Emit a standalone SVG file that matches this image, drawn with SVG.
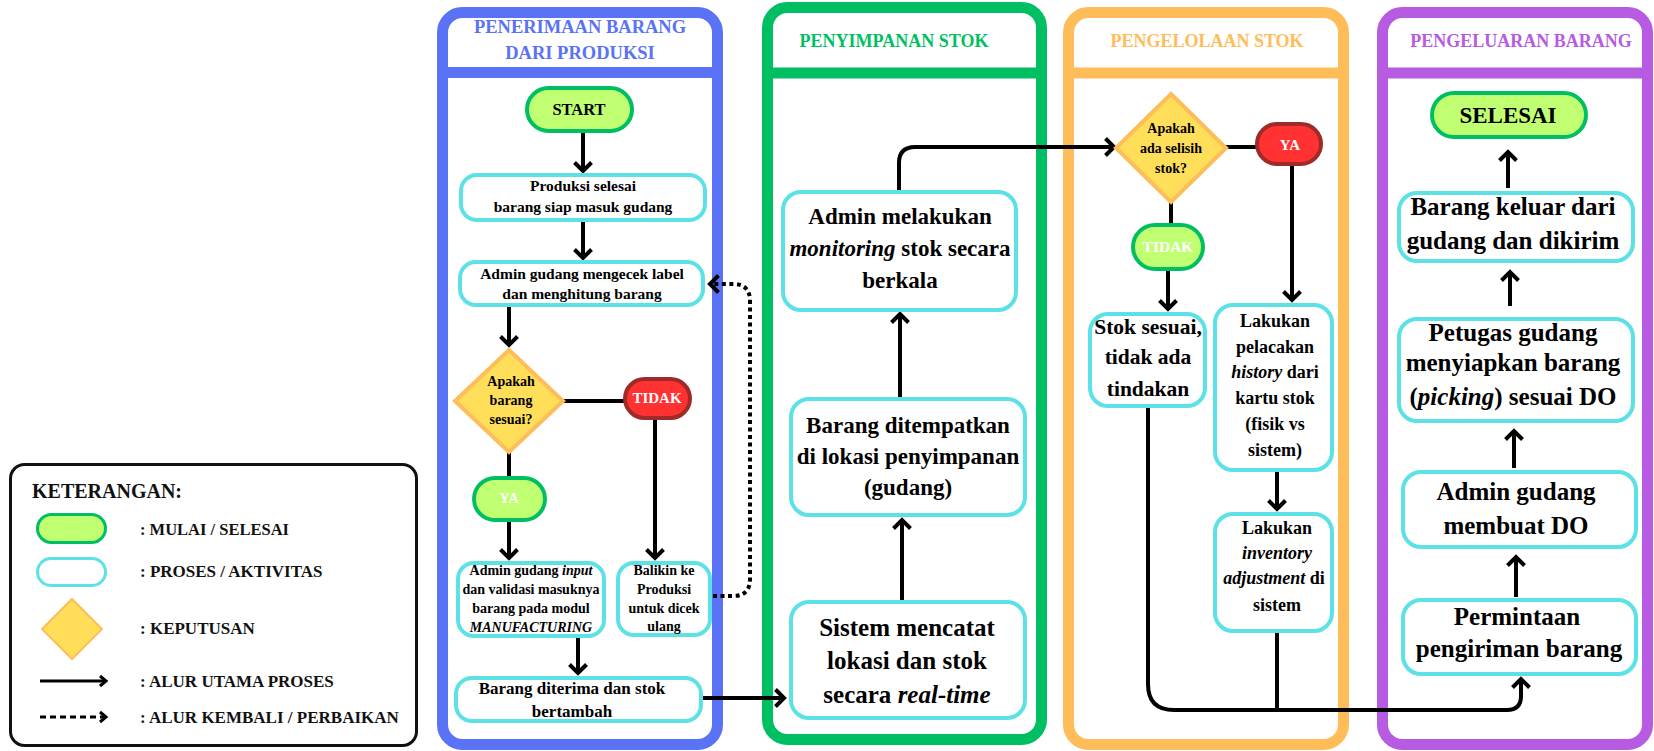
<svg xmlns="http://www.w3.org/2000/svg" width="1654" height="751" viewBox="0 0 1654 751">
<style>
.t{font-family:"Liberation Serif","Times New Roman",serif;font-weight:bold;text-anchor:middle;fill:#000}
.l{font-family:"Liberation Serif","Times New Roman",serif;font-weight:bold;fill:#111}
.w{fill:#fff}
.i{font-style:italic}
.lane{fill:#fff;stroke-width:11}
.sep{stroke-width:11}
.proc{fill:#fff;stroke:#5CE1E6;stroke-width:4}
.term{fill:#C1FF72;stroke:#00BF63;stroke-width:4}
.red{fill:#FF3131;stroke:#9E2A2A;stroke-width:4}
.dec{fill:#FFDE59;stroke:#FFBD59;stroke-width:4}
.c{fill:none;stroke:#000;stroke-width:4}
.dot{fill:none;stroke:#000;stroke-width:4;stroke-dasharray:4 3.5}
</style>
<defs>
<marker id="arr" markerUnits="userSpaceOnUse" viewBox="0 0 16 20" markerWidth="16" markerHeight="20" refX="12" refY="10" orient="auto" overflow="visible">
<path d="M3.5,1.5 L12,10 L3.5,18.5" fill="none" stroke="#000" stroke-width="4" stroke-linejoin="miter"/>
</marker>
<marker id="arrs" markerUnits="userSpaceOnUse" viewBox="0 0 12 14" markerWidth="12" markerHeight="14" refX="9" refY="7" orient="auto" overflow="visible">
<path d="M3,2 L9,7 L3,12" fill="none" stroke="#000" stroke-width="3"/>
</marker>
</defs>
<rect width="1654" height="751" fill="#fff"/>

<!-- Lanes -->
<g id="lane-penerimaan">
<rect class="lane" x="442.5" y="12.5" width="275" height="732" rx="20" stroke="#5A72F6"/>
<line class="sep" x1="442.5" y1="72.5" x2="717.5" y2="72.5" stroke="#5A72F6"/>
<text class="t" x="580" y="33" font-size="18.5" style="fill:#5A72F6">PENERIMAAN BARANG</text>
<text class="t" x="580" y="59" font-size="18.5" style="fill:#5A72F6">DARI PRODUKSI</text>
</g>
<g id="lane-penyimpanan">
<rect class="lane" x="767.5" y="7.5" width="274" height="732" rx="20" stroke="#00BF63"/>
<line class="sep" x1="767.5" y1="73" x2="1041.5" y2="73" stroke="#00BF63"/>
<text class="t" x="894" y="47" font-size="18" style="fill:#00BF63">PENYIMPANAN STOK</text>
</g>
<g id="lane-pengelolaan">
<rect class="lane" x="1068.5" y="12.5" width="275" height="732" rx="20" stroke="#FFBD59"/>
<line class="sep" x1="1068.5" y1="73" x2="1343.5" y2="73" stroke="#FFBD59"/>
<text class="t" x="1207" y="47" font-size="18" style="fill:#FFBD59">PENGELOLAAN STOK</text>
</g>
<g id="lane-pengeluaran">
<rect class="lane" x="1382.5" y="12.5" width="265" height="732" rx="20" stroke="#B65BE2"/>
<line class="sep" x1="1382.5" y1="73" x2="1647.5" y2="73" stroke="#B65BE2"/>
<text class="t" x="1521" y="47" font-size="18" style="fill:#B65BE2">PENGELUARAN BARANG</text>
</g>

<!-- Legend -->
<g id="legend">
<rect x="10.5" y="464.5" width="406" height="281" rx="14" fill="#fff" stroke="#111" stroke-width="3"/>
<text class="l" x="32" y="498" font-size="20">KETERANGAN:</text>
<rect x="37.5" y="514.5" width="68" height="28" rx="14" fill="#C1FF72" stroke="#00BF63" stroke-width="3"/>
<text class="l" x="140" y="535" font-size="16.5">: MULAI / SELESAI</text>
<rect x="37.5" y="558.5" width="68" height="27" rx="13.5" fill="#fff" stroke="#5CE1E6" stroke-width="3"/>
<text class="l" x="140" y="577" font-size="17">: PROSES / AKTIVITAS</text>
<polygon points="72,599 102,629 72,659 42,629" fill="#FFDE59" stroke="#FFBD59" stroke-width="2"/>
<text class="l" x="140" y="634" font-size="17">: KEPUTUSAN</text>
<line x1="40" y1="681" x2="106" y2="681" stroke="#000" stroke-width="3" marker-end="url(#arrs)"/>
<text class="l" x="140" y="687" font-size="17">: ALUR UTAMA PROSES</text>
<line x1="40" y1="717" x2="106" y2="717" stroke="#000" stroke-width="3" stroke-dasharray="6 4" marker-end="url(#arrs)"/>
<text class="l" x="140" y="723" font-size="17">: ALUR KEMBALI / PERBAIKAN</text>
</g>

<!-- Connectors -->
<g id="connectors">
<line class="c" x1="583" y1="133" x2="583" y2="171" marker-end="url(#arr)"/>
<line class="c" x1="583" y1="222" x2="583" y2="258" marker-end="url(#arr)"/>
<line class="c" x1="509" y1="307" x2="509" y2="345" marker-end="url(#arr)"/>
<line class="c" x1="562" y1="401" x2="625" y2="401"/>
<line class="c" x1="655" y1="420" x2="655" y2="558" marker-end="url(#arr)"/>
<line class="c" x1="509" y1="451" x2="509" y2="478"/>
<line class="c" x1="509" y1="522" x2="509" y2="558" marker-end="url(#arr)"/>
<line class="c" x1="578" y1="638" x2="578" y2="673" marker-end="url(#arr)"/>
<path class="dot" d="M713 596 L733 596 Q750 596 750 579 L750 301 Q750 284 733 284 L710 284" marker-end="url(#arr)"/>
<line class="c" x1="703" y1="698" x2="784" y2="698" marker-end="url(#arr)"/>
<line class="c" x1="902" y1="600" x2="902" y2="520" marker-end="url(#arr)"/>
<line class="c" x1="900" y1="397" x2="900" y2="314" marker-end="url(#arr)"/>
<path class="c" d="M899 190 L899 163 Q899 147 915 147 L1114 147" marker-end="url(#arr)"/>
<line class="c" x1="1225" y1="147" x2="1257" y2="147"/>
<line class="c" x1="1292" y1="166" x2="1292" y2="300" marker-end="url(#arr)"/>
<line class="c" x1="1171" y1="201" x2="1171" y2="225"/>
<line class="c" x1="1168" y1="271" x2="1168" y2="309" marker-end="url(#arr)"/>
<line class="c" x1="1277" y1="472" x2="1277" y2="509" marker-end="url(#arr)"/>
<line class="c" x1="1277" y1="633" x2="1277" y2="710"/>
<path class="c" d="M1148 408 L1148 684 Q1148 710 1174 710 L1507 710 Q1521 710 1521 696 L1521 679" marker-end="url(#arr)"/>
<line class="c" x1="1516" y1="597" x2="1516" y2="557" marker-end="url(#arr)"/>
<line class="c" x1="1514" y1="468" x2="1514" y2="431" marker-end="url(#arr)"/>
<line class="c" x1="1510" y1="306" x2="1510" y2="272" marker-end="url(#arr)"/>
<line class="c" x1="1508" y1="188" x2="1508" y2="152" marker-end="url(#arr)"/>
</g>

<!-- Lane 1 nodes -->
<g id="n-start">
<rect class="term" x="527" y="88" width="105" height="43" rx="21.5"/>
<text class="t" x="579" y="115" font-size="16.5">START</text>
</g>
<g id="n-produksi">
<rect class="proc" x="461" y="175" width="244" height="45" rx="16"/>
<text class="t" x="583" y="191" font-size="15.5">Produksi selesai</text>
<text class="t" x="583" y="212" font-size="15.5">barang siap masuk gudang</text>
</g>
<g id="n-cek">
<rect class="proc" x="460" y="262" width="243" height="43" rx="16"/>
<text class="t" x="582" y="279" font-size="15.5">Admin gudang mengecek label</text>
<text class="t" x="582" y="299" font-size="15.5">dan menghitung barang</text>
</g>
<g id="n-sesuai">
<polygon class="dec" points="509,350 563,401 509,452 455,401"/>
<text class="t" x="511" y="386" font-size="14">Apakah</text>
<text class="t" x="511" y="405" font-size="14">barang</text>
<text class="t" x="511" y="424" font-size="14">sesuai?</text>
</g>
<g id="n-tidak1">
<rect class="red" x="625" y="379" width="65" height="39" rx="19.5"/>
<text class="t w" x="657" y="403" font-size="15">TIDAK</text>
</g>
<g id="n-ya1">
<rect class="term" x="474" y="478" width="71" height="42" rx="21"/>
<text class="t w" x="509" y="503" font-size="14.5">YA</text>
</g>
<g id="n-input">
<rect class="proc" x="458" y="563" width="146" height="73" rx="16"/>
<text class="t" x="531" y="575" font-size="14">Admin gudang <tspan class="i">input</tspan></text>
<text class="t" x="531" y="594" font-size="14">dan validasi masuknya</text>
<text class="t" x="531" y="613" font-size="14">barang pada modul</text>
<text class="t i" x="531" y="632" font-size="14">MANUFACTURING</text>
</g>
<g id="n-balikin">
<rect class="proc" x="618" y="563" width="92" height="72" rx="16"/>
<text class="t" x="664" y="575" font-size="14">Balikin ke</text>
<text class="t" x="664" y="594" font-size="14">Produksi</text>
<text class="t" x="664" y="613" font-size="14">untuk dicek</text>
<text class="t" x="664" y="631" font-size="14">ulang</text>
</g>
<g id="n-diterima">
<rect class="proc" x="456" y="678" width="245" height="43" rx="16"/>
<text class="t" x="572" y="694" font-size="17">Barang diterima dan stok</text>
<text class="t" x="572" y="717" font-size="17">bertambah</text>
</g>

<!-- Lane 2 nodes -->
<g id="n-monitoring">
<rect class="proc" x="783" y="192" width="233" height="118" rx="18"/>
<text class="t" x="900" y="224" font-size="23">Admin melakukan</text>
<text class="t" x="900" y="256" font-size="23"><tspan class="i">monitoring</tspan> stok secara</text>
<text class="t" x="900" y="288" font-size="23">berkala</text>
</g>
<g id="n-ditempatkan">
<rect class="proc" x="791" y="399" width="234" height="116" rx="18"/>
<text class="t" x="908" y="433" font-size="23">Barang ditempatkan</text>
<text class="t" x="908" y="464" font-size="23">di lokasi penyimpanan</text>
<text class="t" x="908" y="495" font-size="23">(gudang)</text>
</g>
<g id="n-sistem">
<rect class="proc" x="791" y="602" width="234" height="116" rx="18"/>
<text class="t" x="907" y="636" font-size="25">Sistem mencatat</text>
<text class="t" x="907" y="669" font-size="25">lokasi dan stok</text>
<text class="t" x="907" y="703" font-size="25">secara <tspan class="i">real-time</tspan></text>
</g>

<!-- Lane 3 nodes -->
<g id="n-selisih">
<polygon class="dec" points="1171,94 1226,148 1171,202 1116,148"/>
<text class="t" x="1171" y="133" font-size="14">Apakah</text>
<text class="t" x="1171" y="153" font-size="14">ada selisih</text>
<text class="t" x="1171" y="173" font-size="14">stok?</text>
</g>
<g id="n-ya2">
<rect class="red" x="1257" y="124" width="64" height="40" rx="20"/>
<text class="t w" x="1290" y="150" font-size="15">YA</text>
</g>
<g id="n-tidak2">
<rect class="term" x="1133" y="225" width="70" height="44" rx="22"/>
<text class="t w" x="1168" y="252" font-size="15.5">TIDAK</text>
</g>
<g id="n-stoksesuai">
<rect class="proc" x="1090" y="314" width="115" height="92" rx="18"/>
<text class="t" x="1148" y="334" font-size="21.5">Stok sesuai,</text>
<text class="t" x="1148" y="364" font-size="21.5">tidak ada</text>
<text class="t" x="1148" y="396" font-size="21.5">tindakan</text>
</g>
<g id="n-pelacakan">
<rect class="proc" x="1215" y="305" width="117" height="165" rx="18"/>
<text class="t" x="1275" y="327" font-size="18">Lakukan</text>
<text class="t" x="1275" y="353" font-size="18">pelacakan</text>
<text class="t" x="1275" y="378" font-size="18"><tspan class="i">history</tspan> dari</text>
<text class="t" x="1275" y="404" font-size="18">kartu stok</text>
<text class="t" x="1275" y="430" font-size="18">(fisik vs</text>
<text class="t" x="1275" y="456" font-size="18">sistem)</text>
</g>
<g id="n-adjustment">
<rect class="proc" x="1215" y="514" width="117" height="117" rx="18"/>
<text class="t" x="1277" y="534" font-size="18">Lakukan</text>
<text class="t i" x="1277" y="559" font-size="18">inventory</text>
<text class="t" x="1274" y="584" font-size="18"><tspan class="i">adjustment</tspan> di</text>
<text class="t" x="1277" y="611" font-size="18">sistem</text>
</g>

<!-- Lane 4 nodes -->
<g id="n-selesai">
<rect class="term" x="1432" y="93" width="154" height="44" rx="22"/>
<text class="t" x="1508" y="123" font-size="23">SELESAI</text>
</g>
<g id="n-keluar">
<rect class="proc" x="1399" y="193" width="234" height="68" rx="18"/>
<text class="t" x="1513" y="215" font-size="25">Barang keluar dari</text>
<text class="t" x="1513" y="249" font-size="25">gudang dan dikirim</text>
</g>
<g id="n-picking">
<rect class="proc" x="1399" y="319" width="234" height="102" rx="18"/>
<text class="t" x="1513" y="341" font-size="25">Petugas gudang</text>
<text class="t" x="1513" y="371" font-size="25">menyiapkan barang</text>
<text class="t" x="1513" y="405" font-size="25">(<tspan class="i">picking</tspan>) sesuai DO</text>
</g>
<g id="n-do">
<rect class="proc" x="1403" y="472" width="233" height="75" rx="18"/>
<text class="t" x="1516" y="500" font-size="25">Admin gudang</text>
<text class="t" x="1516" y="534" font-size="25">membuat DO</text>
</g>
<g id="n-permintaan">
<rect class="proc" x="1403" y="600" width="233" height="74" rx="18"/>
<text class="t" x="1517" y="625" font-size="25">Permintaan</text>
<text class="t" x="1519" y="657" font-size="25">pengiriman barang</text>
</g>
</svg>
